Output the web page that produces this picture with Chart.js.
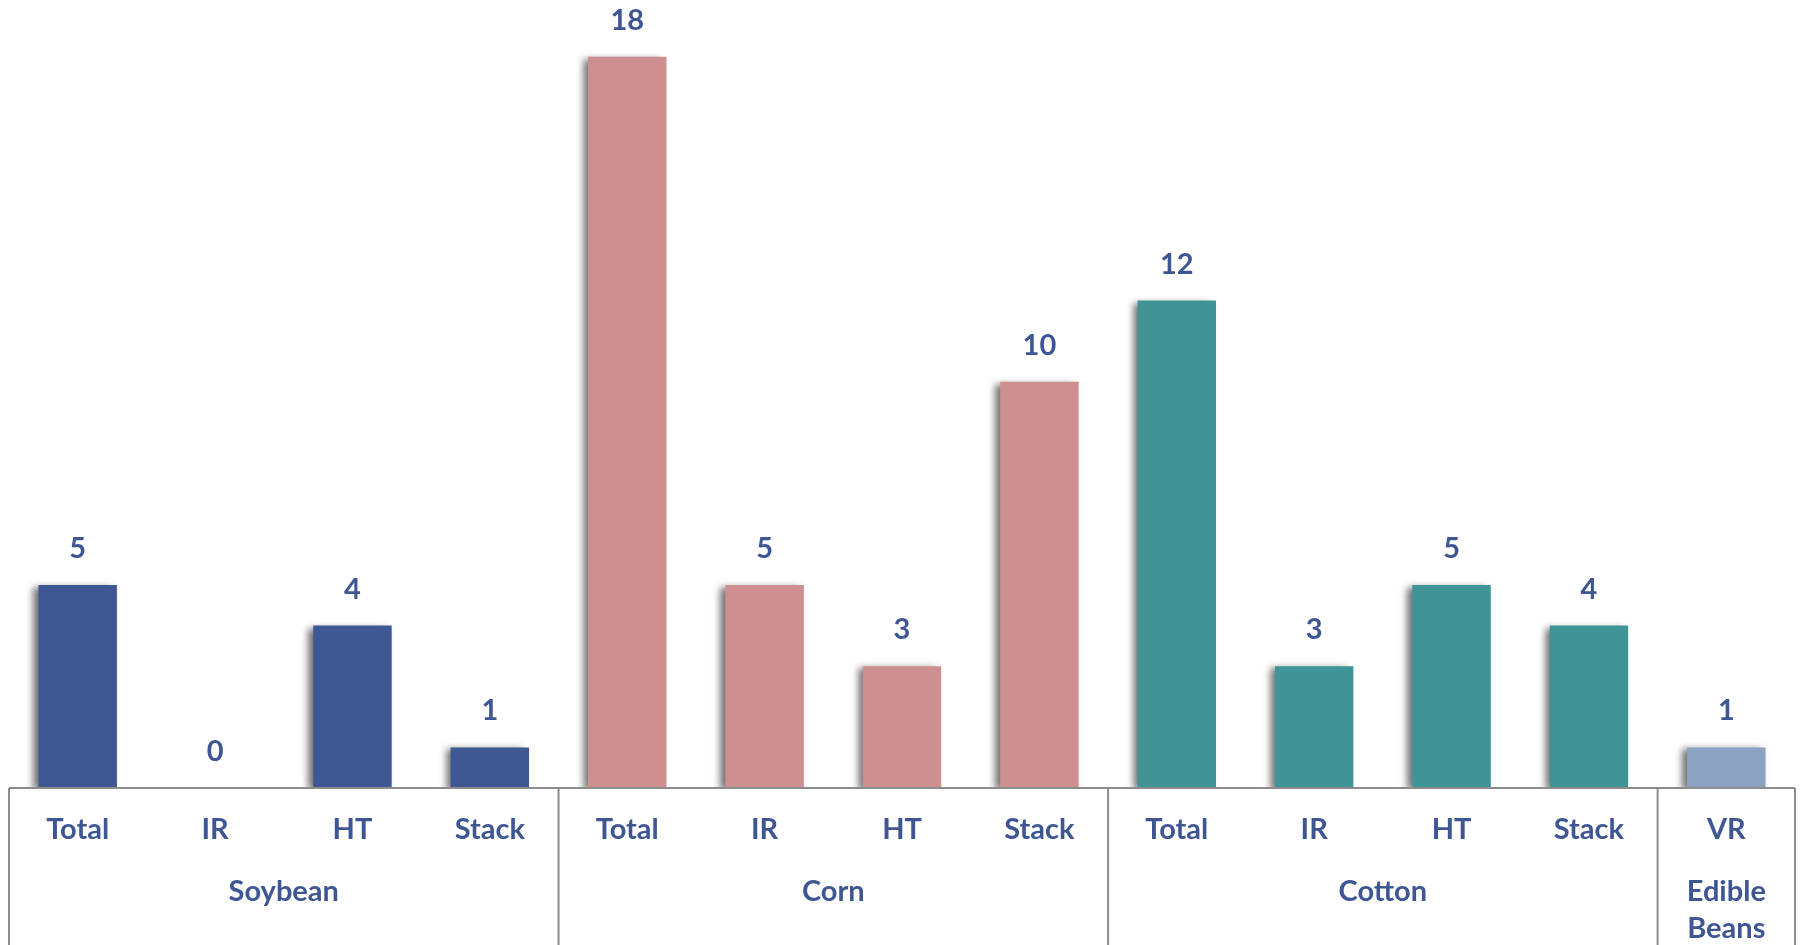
<!DOCTYPE html>
<html>
<head>
<meta charset="utf-8">
<script src="https://cdn.jsdelivr.net/npm/chart.js@4/dist/chart.umd.min.js"></script>
<style>
  html, body { margin: 0; padding: 0; background: #ffffff; }
  #wrap { width: 1803px; height: 945px; }
</style>
</head>
<body>
<div id="wrap"><canvas id="c" width="1803" height="945"></canvas></div>
<script>
// Trait counts per crop and trait type
const categories = ['Total', 'IR', 'HT', 'Stack', 'Total', 'IR', 'HT', 'Stack', 'Total', 'IR', 'HT', 'Stack', 'VR'];
const values = [5, 0, 4, 1, 18, 5, 3, 10, 12, 3, 5, 4, 1];
const groupNames = ['Soybean', 'Corn', 'Cotton', ['Edible', 'Beans']];
const groupSizes = [4, 4, 4, 1];
const groupColors = ['#3F5894', '#CD8F8F', '#3F9595', '#8CA2C3'];

const textColor = '#3F5694';
const fontFamily = 'Lato, "Open Sans", sans-serif';
const lineColor = '#8C8C8C';

// one colour per bar, following the crop it belongs to
const barColors = [];
groupSizes.forEach((n, g) => { for (let i = 0; i < n; i++) barColors.push(groupColors[g]); });

// soft shadow to the left of every bar
const barShadow = {
  id: 'barShadow',
  beforeDatasetsDraw(chart) {
    const ctx = chart.ctx;
    ctx.save();
    ctx.shadowColor = 'rgba(0,0,0,0.55)';
    ctx.shadowBlur = 7;
    ctx.shadowOffsetX = -5;
    ctx.shadowOffsetY = 2;
  },
  afterDatasetsDraw(chart) {
    chart.ctx.restore();
  }
};

// value labels above the bars, plus the boxed two-level category axis
const annotate = {
  id: 'annotate',
  afterDatasetsDraw(chart) {
    const ctx = chart.ctx;
    const x = chart.scales.x;
    const y = chart.scales.y;
    const meta = chart.getDatasetMeta(0);

    ctx.save();
    ctx.fillStyle = textColor;
    ctx.font = 'bold 29px ' + fontFamily;
    ctx.textAlign = 'center';
    ctx.textBaseline = 'alphabetic';
    meta.data.forEach((bar, i) => {
      ctx.fillText(String(values[i]), bar.x, y.getPixelForValue(values[i]) - 27);
    });

    // axis box
    const base = y.getPixelForValue(0);
    const half = (x.getPixelForValue(1) - x.getPixelForValue(0)) / 2;
    const left = x.getPixelForValue(0) - half;
    const right = x.getPixelForValue(categories.length - 1) + half;
    const bottom = chart.height;
    ctx.strokeStyle = lineColor;
    ctx.lineWidth = 2;
    ctx.beginPath();
    ctx.moveTo(left, base);
    ctx.lineTo(right, base);
    let idx = 0;
    const edges = [left];
    groupSizes.forEach(n => { idx += n; edges.push(x.getPixelForValue(idx - 1) + half); });
    edges.forEach(ex => { ctx.moveTo(ex, base); ctx.lineTo(ex, bottom); });
    ctx.stroke();

    // crop names under the trait labels
    idx = 0;
    groupNames.forEach((name, g) => {
      const first = x.getPixelForValue(idx);
      const last = x.getPixelForValue(idx + groupSizes[g] - 1);
      const cx = (first + last) / 2;
      const lines = Array.isArray(name) ? name : [name];
      lines.forEach((ln, k) => ctx.fillText(ln, cx, base + 113 + k * 37));
      idx += groupSizes[g];
    });
    ctx.restore();
  }
};

new Chart(document.getElementById('c'), {
  type: 'bar',
  data: {
    labels: categories,
    datasets: [{
      data: values,
      backgroundColor: barColors,
      borderWidth: 0,
      categoryPercentage: 1.0,
      barPercentage: 0.571
    }]
  },
  options: {
    responsive: false,
    animation: false,
    devicePixelRatio: 1,
    layout: { padding: { left: 9, right: 8, top: 0, bottom: 0 } },
    plugins: {
      legend: { display: false },
      tooltip: { enabled: false }
    },
    scales: {
      x: {
        grid: { display: false, drawTicks: false },
        border: { display: false },
        ticks: {
          color: textColor,
          font: { family: fontFamily, size: 29, weight: 'bold' },
          padding: 24,
          maxRotation: 0,
          autoSkip: false
        },
        afterFit(axis) { axis.height = 157; }
      },
      y: {
        display: false,
        min: 0,
        max: 19.4
      }
    }
  },
  plugins: [barShadow, annotate]
});
</script>
</body>
</html>
